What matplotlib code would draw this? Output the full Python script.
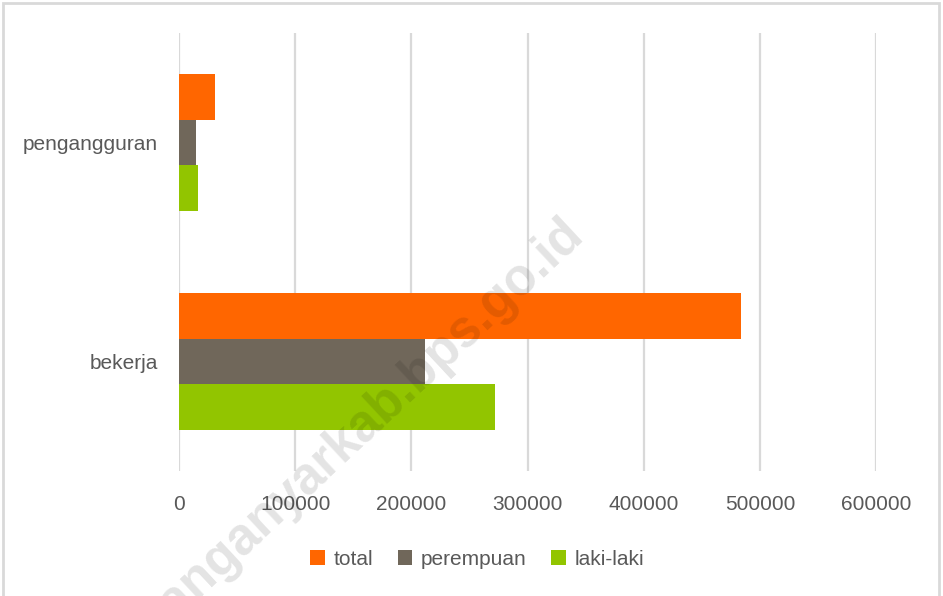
import matplotlib
matplotlib.use("Agg")
import matplotlib.pyplot as plt
from matplotlib.patches import Rectangle
import numpy as np

# data
kategori = ["bekerja", "pengangguran"]
total = [484000, 31000]
perempuan = [211800, 14500]
laki_laki = [272200, 16600]
ticks_x = [0, 100000, 200000, 300000, 400000, 500000, 600000]

warna_total = "#FF6600"
warna_perempuan = "#70675A"
warna_laki = "#92C500"
warna_teks = "#595959"

plt.rcParams["font.family"] = ["Liberation Sans", "DejaVu Sans"]

fig = plt.figure(figsize=(9.43, 5.96), dpi=100)
ax = fig.add_axes([0.1898, 0.2097, 0.7392, 0.7349])

y = np.arange(len(kategori))
h = 0.208
ax.barh(y + h, total, height=h, color=warna_total, label="total", zorder=3)
ax.barh(y, perempuan, height=h, color=warna_perempuan, label="perempuan", zorder=3)
ax.barh(y - h, laki_laki, height=h, color=warna_laki, label="laki-laki", zorder=3)

ax.set_xlim(0, 600000)
ax.set_ylim(-0.5, 1.5)
ax.set_xticks(ticks_x)
ax.set_xticklabels([str(t) for t in ticks_x])
ax.set_yticks(y)
ax.set_yticklabels(kategori)
ax.tick_params(axis="both", length=0, labelsize=15, colors=warna_teks)
ax.tick_params(axis="x", pad=17)
ax.tick_params(axis="y", pad=15)
ax.grid(axis="x", color="#D9D9D9", linewidth=1.6, zorder=0)
for s in ax.spines.values():
    s.set_visible(False)

leg = fig.legend(loc="center", bbox_to_anchor=(0.506, 0.062), ncol=3, frameon=False,
                 fontsize=15, handlelength=0.7, handleheight=0.7, handletextpad=0.4,
                 columnspacing=1.2, labelcolor=warna_teks)

# border around the chart area
fig.patches.append(Rectangle((0.0035, -0.01), 0.9925, 1.005, transform=fig.transFigure,
                             fill=False, edgecolor="#D9D9D9", linewidth=2, zorder=10))

# watermark
fig.text(0.628, 0.59, "karanganyarkab.bps.go.id", rotation=43, rotation_mode="anchor",
         ha="right", va="bottom", fontsize=37, fontweight="bold", color="black",
         alpha=0.11, zorder=20)

fig.savefig("out.png", dpi=100)
